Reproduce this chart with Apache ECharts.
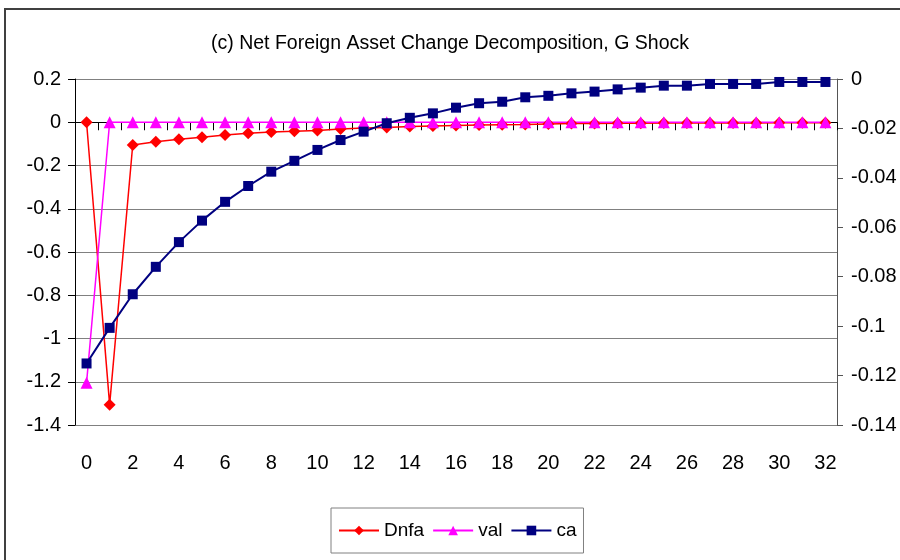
<!DOCTYPE html>
<html>
<head>
<meta charset="utf-8">
<script src="https://cdn.jsdelivr.net/npm/echarts@6/dist/echarts.min.js"></script>
<style>
html, body { margin: 0; padding: 0; background: #fff; }
#chart { width: 900px; height: 560px; }
</style>
</head>
<body>
<div id="chart"></div>
<script>
// periods 0..32
var periods = ['0','1','2','3','4','5','6','7','8','9','10','11','12','13','14','15','16',
    '17','18','19','20','21','22','23','24','25','26','27','28','29','30','31','32'];

// left axis
var dnfa = [0, -1.306, -0.105, -0.090, -0.079, -0.069, -0.059, -0.051, -0.045, -0.042, -0.038,
    -0.031, -0.027, -0.024, -0.020, -0.017, -0.015, -0.013, -0.011, -0.010, -0.008,
    -0.006, -0.006, -0.005, -0.005, -0.004, -0.004, -0.003, -0.003, -0.003, -0.002, -0.002, -0.002];
var val = [-1.205, 0, 0, 0, 0, 0, 0, 0, 0, 0, 0, 0, 0, 0, 0, 0, 0,
    0, 0, 0, 0, 0, 0, 0, 0, 0, 0, 0, 0, 0, 0, 0, 0];

// right axis
var ca = [-0.1151, -0.1007, -0.0871, -0.0760, -0.0660, -0.0573, -0.0497, -0.0433, -0.0375,
    -0.0331, -0.0287, -0.0247, -0.0213, -0.0179, -0.0157, -0.0139, -0.0116, -0.0098,
    -0.0092, -0.0074, -0.0068, -0.0058, -0.0051, -0.0042, -0.0035, -0.0027, -0.0027,
    -0.0020, -0.0020, -0.0020, -0.0012, -0.0012, -0.0012];

var font = 'Liberation Sans, Arial, sans-serif';

var chart = echarts.init(document.getElementById('chart'));
chart.setOption({
    animation: false,
    backgroundColor: '#fff',
    title: {
        text: '(c) Net Foreign Asset Change Decomposition, G Shock',
        left: 'center',
        top: 29,
        padding: [5, 5, 5, 29],  // nudge right, title sits a bit right of centre
        textStyle: { fontFamily: font, fontSize: 19.5, fontWeight: 'normal', color: '#000' }
    },
    graphic: [{
        type: 'rect',
        shape: { x: 5, y: 9, width: 920, height: 600 },
        style: { fill: null, stroke: '#404040', lineWidth: 2 },
        silent: true
    }],
    legend: {
        top: 508,
        left: 331,
        itemWidth: 40,
        itemHeight: 12,
        itemGap: 8,
        padding: [13, 7],
        borderColor: '#808080',
        borderWidth: 1,
        textStyle: { fontFamily: font, fontSize: 19, color: '#000' },
        data: ['Dnfa', 'val', 'ca']
    },
    grid: { left: 75, right: 63, top: 79, bottom: 135 },
    xAxis: {
        type: 'category',
        data: periods,
        boundaryGap: true,
        axisLine: { lineStyle: { color: '#000', width: 1 } },
        axisTick: { show: true, interval: 0, length: 8, lineStyle: { color: '#000' } },
        axisLabel: { interval: 1, fontFamily: font, fontSize: 20, color: '#000', margin: 28 },
        splitLine: { show: false }
    },
    yAxis: [{
        type: 'value',
        min: -1.4,
        max: 0.2,
        interval: 0.2,
        axisLine: { show: true, lineStyle: { color: '#000', width: 1 } },
        axisTick: { show: true, length: 7, lineStyle: { color: '#000' } },
        axisLabel: { fontFamily: font, fontSize: 20, color: '#000', margin: 14 },
        splitLine: { show: true, lineStyle: { color: '#808080', width: 1 } }
    }, {
        type: 'value',
        min: -0.14,
        max: 0,
        interval: 0.02,
        position: 'right',
        axisLine: { show: true, lineStyle: { color: '#555', width: 1 } },
        axisTick: { show: true, length: 6, lineStyle: { color: '#555' } },
        axisLabel: { fontFamily: font, fontSize: 20, color: '#000', margin: 14 },
        splitLine: { show: false }
    }],
    series: [{
        name: 'Dnfa',
        type: 'line',
        data: dnfa,
        yAxisIndex: 0,
        symbol: 'diamond',
        symbolSize: 12,
        color: '#FF0000',
        lineStyle: { color: '#FF0000', width: 1.5 },
        itemStyle: { color: '#FF0000' }
    }, {
        name: 'val',
        type: 'line',
        data: val,
        yAxisIndex: 0,
        symbol: 'triangle',
        symbolSize: 12,
        color: '#FF00FF',
        lineStyle: { color: '#FF00FF', width: 1.5 },
        itemStyle: { color: '#FF00FF' }
    }, {
        name: 'ca',
        type: 'line',
        data: ca,
        yAxisIndex: 1,
        symbol: 'rect',
        symbolSize: 10,
        color: '#000080',
        lineStyle: { color: '#000080', width: 2 },
        itemStyle: { color: '#000080' }
    }]
});
</script>
</body>
</html>
